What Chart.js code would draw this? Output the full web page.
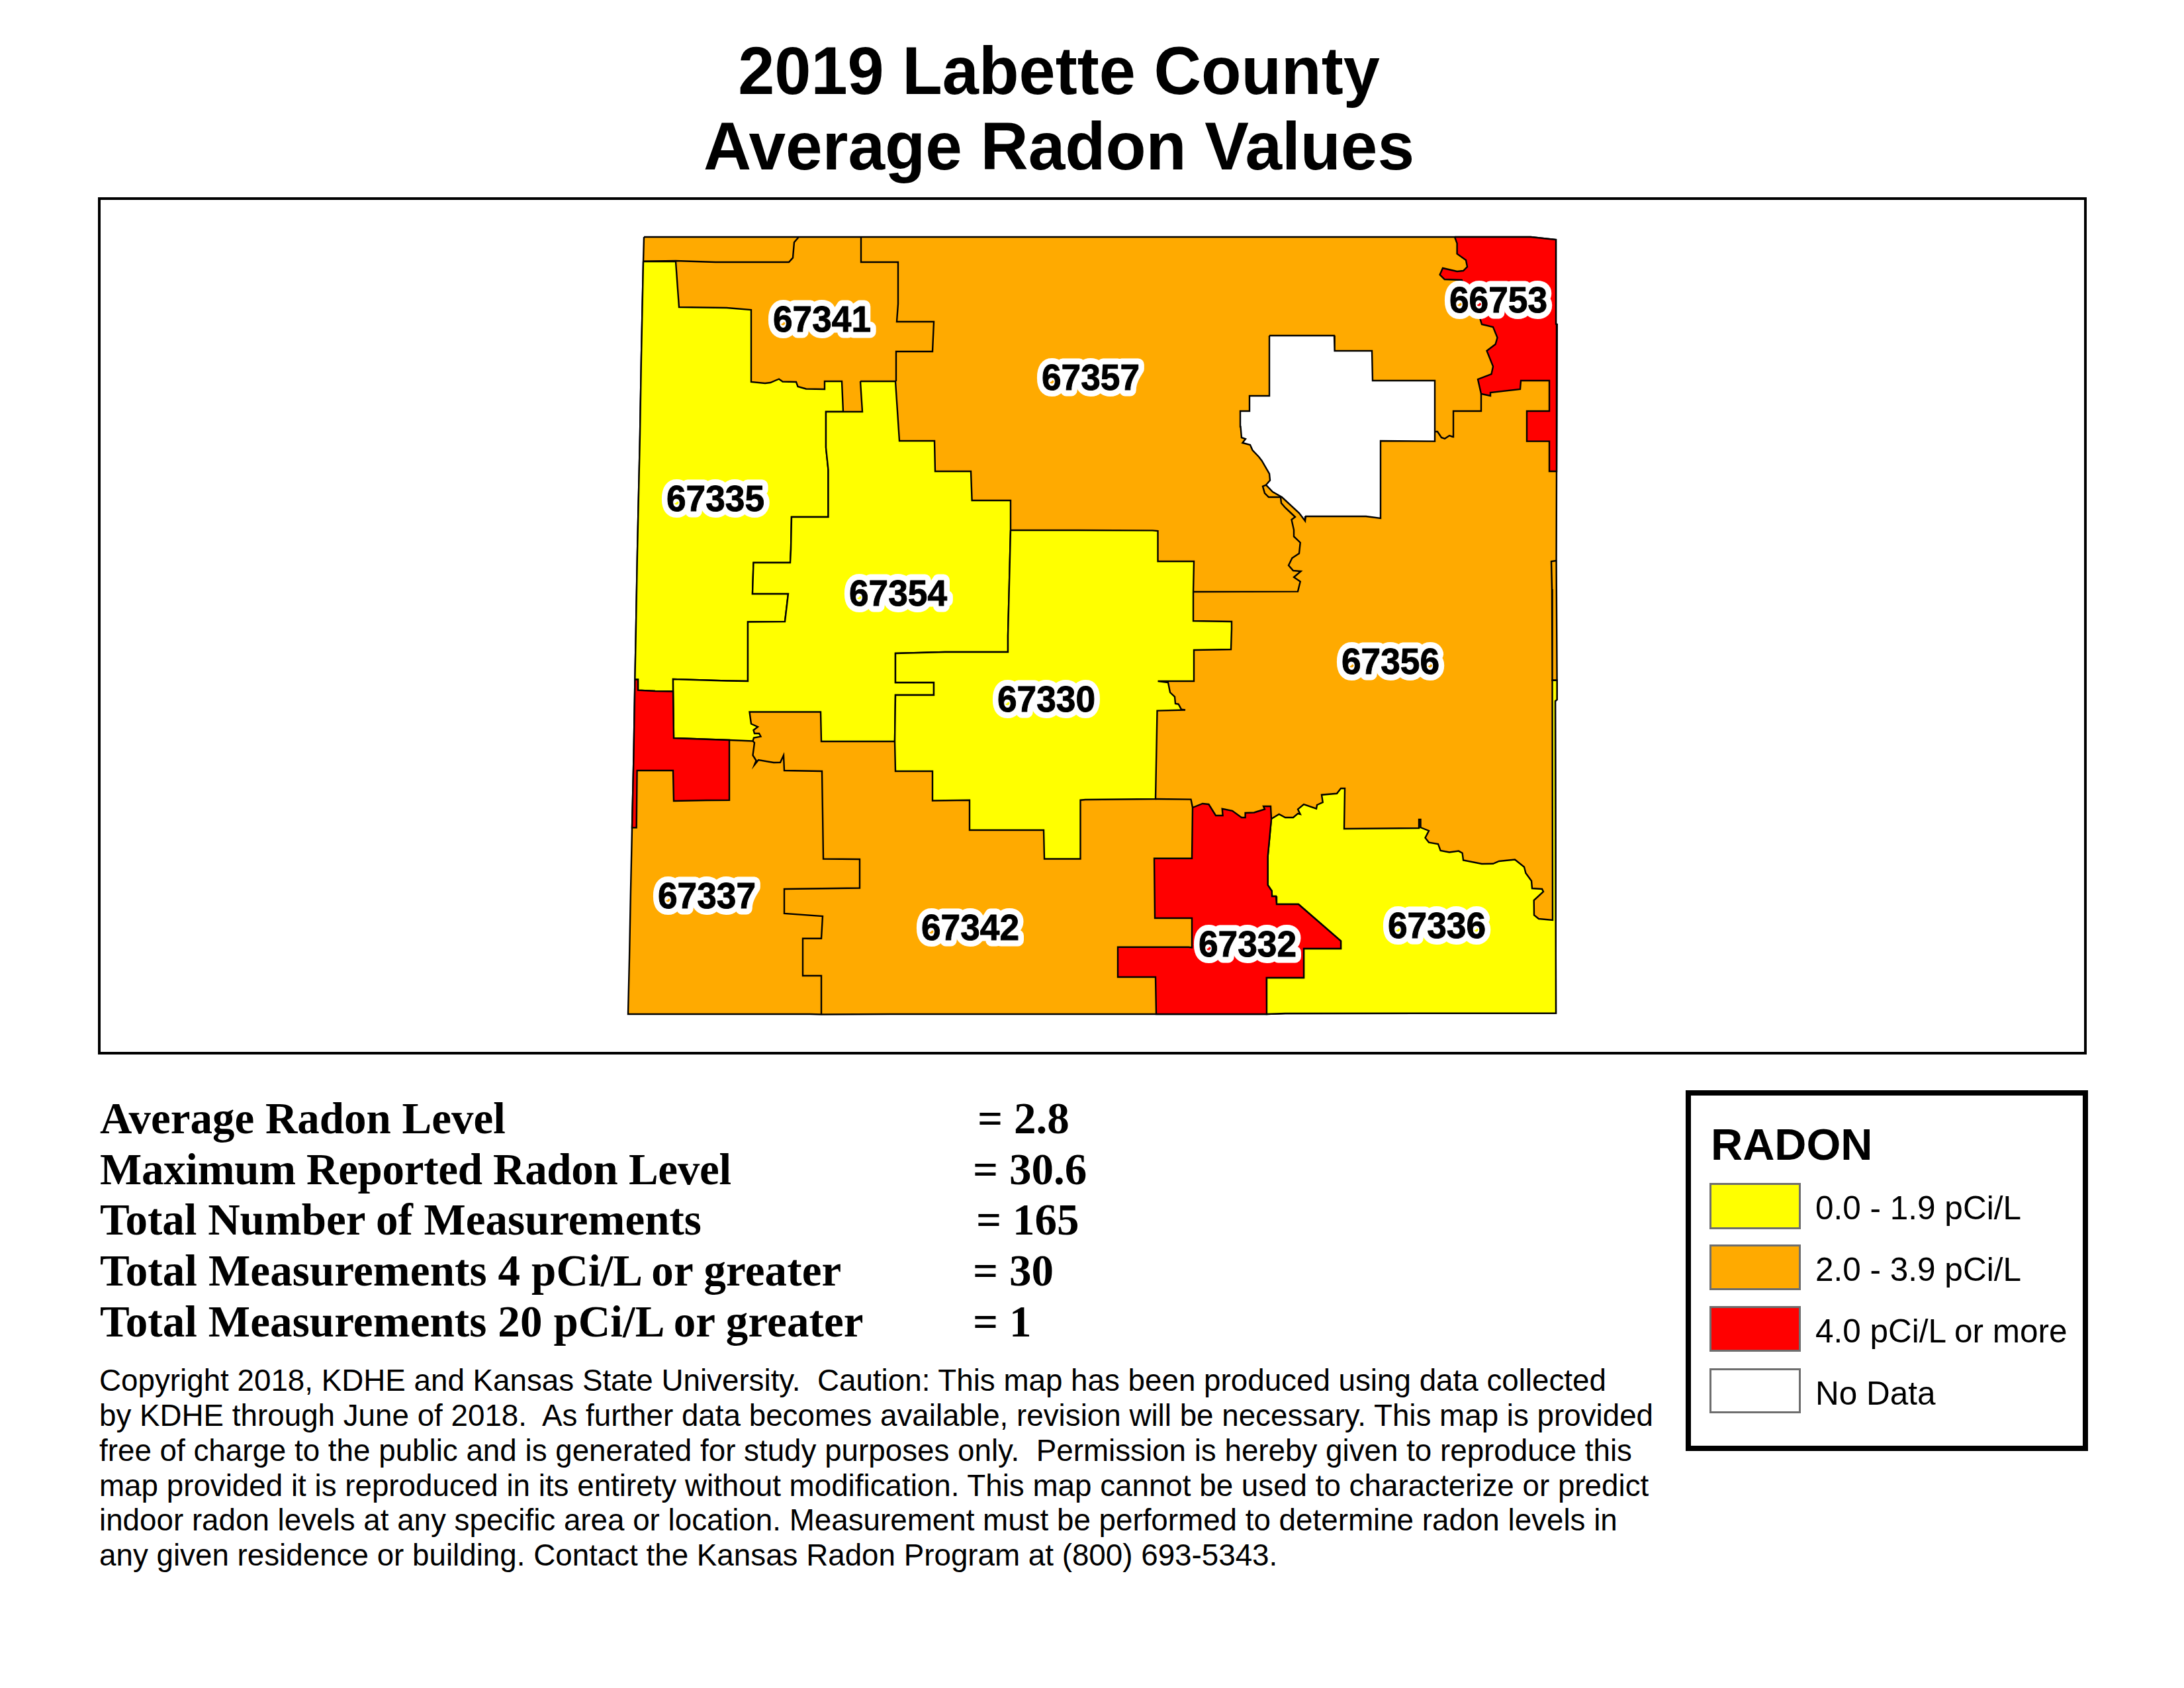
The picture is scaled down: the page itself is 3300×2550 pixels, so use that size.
<!DOCTYPE html>
<html><head><meta charset="utf-8">
<style>
html,body{margin:0;padding:0;background:#fff;width:3300px;height:2550px;overflow:hidden}
.t{position:absolute;white-space:pre;color:#000;line-height:1}
.sans{font-family:"Liberation Sans",Arial,sans-serif}
.serif{font-family:"Liberation Serif","Times New Roman",serif;font-weight:bold}
#frame{position:absolute;left:148px;top:298px;width:3005px;height:1295px;box-sizing:border-box;border:4px solid #000}
#map{position:absolute;left:152px;top:302px}
#legendBox{position:absolute;left:2547px;top:1647px;width:608px;height:545px;border:8px solid #000;box-sizing:border-box}
.sw{position:absolute;box-sizing:border-box;border:3px solid #6e6e6e}
</style>
<script src="https://cdn.jsdelivr.net/npm/chart.js@4"></script>
</head><body>
<div id="frame"></div>
<canvas id="map" width="2997" height="1287"></canvas>
<div id="legendBox"></div>
<script>
const titleLines = ["2019 Labette County", "Average Radon Values"];
const statNames = ["Average Radon Level","Maximum Reported Radon Level","Total Number of Measurements","Total Measurements 4 pCi/L or greater","Total Measurements 20 pCi/L or greater"];
const statValues = ["= 2.8","= 30.6","= 165","= 30","= 1"];
const footnote = [
"Copyright 2018, KDHE and Kansas State University.  Caution: This map has been produced using data collected",
"by KDHE through June of 2018.  As further data becomes available, revision will be necessary. This map is provided",
"free of charge to the public and is generated for study purposes only.  Permission is hereby given to reproduce this",
"map provided it is reproduced in its entirety without modification. This map cannot be used to characterize or predict",
"indoor radon levels at any specific area or location. Measurement must be performed to determine radon levels in",
"any given residence or building. Contact the Kansas Radon Program at (800) 693-5343."];
const legendTitle = "RADON";
const legendLabels = ["0.0 - 1.9 pCi/L","2.0 - 3.9 pCi/L","4.0 pCi/L or more","No Data"];
const legendColors = ["#ffff00","#ffaa00","#ff0000","#ffffff"];

// Zone outlines, as [easting, southing] map units
const county = [[973,358],[1207,358],[1301,358],[2198,358],[2313,358],[2351,362],[2351,489.5],[2352.6,490],[2352,712],[2351.6,847],[2352.6,1027.7],[2352.6,1057],[2350,1059],[2351,1530.5],[1942,1531],[1914,1532],[1747,1532],[1345,1532],[1241,1532.5],[1224,1532],[949,1532],[951,1447.5],[953,1344],[955,1252],[957.5,1141],[959.4,1026.5],[960.8,955],[963,834],[967,656],[969,538],[972,395],[973,358]];
const zip67335 = [[972,395],[1021,395],[1026,464],[1098,465],[1135,468],[1135,577],[1156,579],[1164,578],[1177,572.5],[1182.5,576.5],[1203,577],[1205.5,584],[1218,587.5],[1246,588],[1246,576],[1272,576],[1274,622],[1248,622],[1248,676],[1251.5,710],[1251.5,781],[1196,781],[1195,830],[1194,850],[1138.5,850],[1137,897],[1191,897],[1186,939],[1130,939.5],[1130,1029],[1098,1028.5],[1017,1026],[1017,1044.5],[990,1044],[964,1042.6],[964,1026.5],[959.4,1026.5],[960.8,955],[963,834],[967,656],[969,538],[972,395]];
const zip67354 = [[1300,576],[1353,576],[1359,666],[1412,666],[1413,712],[1467,712],[1468.6,756],[1527,756],[1527,801],[1523,960],[1523,985],[1428,985],[1353,987],[1353,1031],[1411,1031],[1411,1050],[1353,1050],[1352,1120],[1241,1120],[1240,1075.5],[1132.5,1075.5],[1135,1093.5],[1145,1098],[1138.5,1103],[1140,1108],[1147,1108],[1149.5,1112.6],[1139,1114.6],[1137.5,1119.5],[1102,1118],[1018,1115],[1017,1026],[1098,1028.5],[1130,1029],[1130,939.5],[1186,939],[1191,897],[1137,897],[1138.5,850],[1194,850],[1195,830],[1196,781],[1251.5,781],[1251.5,710],[1248,676],[1248,622],[1303,622],[1300,576]];
const zip67330 = [[1527,801],[1630,801],[1741.5,801.4],[1749.5,802],[1749.5,848],[1804,848],[1803,895],[1803,938],[1861,939],[1861,950],[1860,981],[1804,982],[1804,1029],[1749.5,1029],[1765,1031],[1768,1046],[1775,1052.6],[1776,1063],[1780.6,1063.7],[1785,1071.7],[1791,1072.5],[1748.5,1073.6],[1746,1207],[1640,1208],[1632.5,1208.7],[1632.5,1297.5],[1578,1297.5],[1577,1254],[1465,1254],[1465,1208.7],[1409,1209.5],[1409,1165],[1353,1165],[1352,1120],[1353,1050],[1411,1050],[1411,1031],[1353,1031],[1353,987],[1428,985],[1523,985],[1523,960],[1527,801]];
const zip67336 = [[1921,1237],[1932.6,1230],[1942,1235],[1954,1235],[1961,1229],[1964.7,1230],[1961,1222.5],[1970,1215],[1989,1221.7],[1990,1216],[1998.7,1212],[1997,1200.7],[2020,1198.8],[2026,1191],[2032,1191],[2031,1252],[2144,1251],[2144,1238],[2146.5,1238],[2146.5,1250],[2159,1255],[2153.5,1265.7],[2159,1272.6],[2173,1275],[2176.6,1285],[2190,1287.5],[2204,1285.6],[2209.6,1288.7],[2211,1299.4],[2239,1305],[2256,1304.8],[2265,1301],[2289,1298.6],[2303,1309.7],[2305.4,1319],[2314,1330.8],[2315,1342],[2330,1343],[2332,1347],[2317.7,1360],[2318,1382.5],[2325,1388],[2346,1390],[2345.5,1027.7],[2352.6,1027.7],[2352.6,1057],[2350,1059],[2351,1530.5],[1942,1531],[1914,1532],[1913.7,1477],[1970,1477],[1970,1433],[2026,1433],[2026,1421.5],[1962,1366],[1929,1366],[1928,1354],[1922,1354],[1921.7,1346],[1915.6,1337],[1915.6,1294.4],[1921,1237]];
const zip66753 = [[2198,358],[2313,358],[2351,362],[2351,489.5],[2352.6,490],[2352,712],[2341,712],[2341,666.6],[2307,666.6],[2307,621],[2341,621],[2341,575],[2298,575],[2297,588],[2252,593],[2252,598],[2238,595],[2233,573],[2253.5,565],[2256,553.5],[2246.5,530],[2259.6,520],[2262.5,510],[2256,494],[2239,490],[2236.5,482],[2208.7,423],[2182.7,422],[2175.6,415],[2180,405],[2201.6,410],[2211,409],[2217,403],[2215,393],[2201.6,383.5],[2201.6,367.7],[2198,358]];
const zip67332 = [[1802,1220],[1817,1214],[1826.4,1215],[1837,1232],[1847.6,1232],[1846.7,1221.7],[1862,1224.8],[1876,1235],[1881.6,1235],[1881.6,1228],[1894.8,1227.5],[1911,1222.5],[1909,1218],[1920,1218],[1921,1237],[1915.6,1294.4],[1915.6,1337],[1921.7,1346],[1922,1354],[1928,1354],[1929,1366],[1962,1366],[2026,1421.5],[2026,1433],[1970,1433],[1970,1477],[1913.7,1477],[1914,1532],[1747,1532],[1746,1476],[1689,1476],[1689,1430.7],[1796,1430.7],[1801,1431.4],[1801,1387],[1745,1387],[1744,1296.7],[1801,1296.7],[1802,1220]];
const westRed = [[959.4,1026.5],[964,1026.5],[964,1042.6],[990,1044],[1017,1044.5],[1018,1115],[1102,1118],[1102,1208.7],[1067,1209],[1018,1210],[1017,1164],[962.6,1164],[961.7,1250.4],[955,1250.4],[957.5,1141],[959.4,1026.5]];
const noData = [[1918,507],[2016,507],[2016.6,530],[2073,530],[2074,575],[2168,575],[2168,666.6],[2086,666],[2086,783],[2064,780],[1973,780],[1972,787],[1963,775],[1937,751],[1923,743],[1913,732.6],[1919,725.5],[1918,715.6],[1906.6,696],[1902,690],[1892.5,680],[1889,672],[1877.4,669],[1882,663],[1876,661],[1874.5,644.5],[1874,621],[1888,621],[1888,598],[1918,598],[1918,507]];
// Borders between neighbouring zones of the same class
const topStripBorder = [[973,394.6],[1021,394],[1081,396],[1192,396],[1198,389.4],[1200,366],[1207,358]];
const border67341 = [[1301,358],[1301,396],[1357,396],[1357,459],[1355,486],[1411,486],[1409,531],[1354,531],[1354,576]];
const borderRiverNorth = [[1913,732.6],[1908,734.6],[1911,745],[1917,751],[1935,751],[1936,760],[1942,767],[1957,781],[1951.5,785],[1955,800.6],[1955,810.5],[1964.7,819.6],[1963,836],[1952.4,843],[1947,854],[1954,862],[1965.6,863],[1955,872],[1964.7,878.5],[1961,893.6],[1804,894]];
const borderRiverEast = [[2168,652],[2172,652],[2178,661],[2183,662.7],[2190,658],[2195.5,660],[2196,621],[2238,621],[2238,595]];
const border67337 = [[1137.5,1119.5],[1140,1122],[1137.5,1141],[1142.6,1149],[1140,1155.5],[1146,1148],[1169,1152],[1179,1151.7],[1184,1141],[1185,1164],[1242,1165],[1243,1229],[1244,1297.5],[1299,1298],[1299,1341.5],[1185,1343],[1185,1380],[1243,1384],[1241,1417.7],[1213,1417.7],[1213,1474],[1241,1474],[1241,1532.5]];
const border67342 = [[1746,1207],[1799.5,1207.6],[1802,1220]];
const borderEastStrip = [[2351.6,847],[2344,848],[2345,890],[2345.5,1027.7],[2352.6,1027.7]];

const zipLabels = ["67341","67357","66753","67335","67354","67330","67356","67337","67342","67332","67336"];
const zipLabelX = [1242,1648,2264,1081,1357,1581,2101,1068,1466,1885,2171];
const zipLabelY = [481,569,452,752,895,1055,998,1352,1400,1425,1397];

const YELLOW="#ffff00", ORANGE="#ffaa00", RED="#ff0000", WHITE="#ffffff";
const zones = [
 ["Labette County",county,ORANGE],["67335",zip67335,YELLOW],["67354",zip67354,YELLOW],["67330",zip67330,YELLOW],["67336",zip67336,YELLOW],
 ["66753",zip66753,RED],["67332",zip67332,RED],["west red",westRed,RED],["No Data",noData,WHITE]];
const borders = [topStripBorder,border67341,borderRiverNorth,borderRiverEast,border67337,border67342,borderEastStrip];

const datasets = [];
zones.forEach((z,i)=>datasets.push({label:z[0],data:z[1],showLine:true,fill:'shape',backgroundColor:z[2],borderColor:'#000',borderWidth:2.4,pointRadius:0,tension:0,order:100-i,borderJoinStyle:'miter'}));
borders.forEach((b,i)=>datasets.push({label:'border '+i,data:b,showLine:true,fill:false,borderColor:'#000',borderWidth:2.4,pointRadius:0,tension:0,order:50-i}));

const haloLabels = {id:'haloLabels',afterDatasetsDraw(chart){
  const c=chart.ctx, xs=chart.scales.x, ys=chart.scales.y;
  c.save(); c.font='bold 56px "Liberation Sans"'; c.textAlign='center'; c.textBaseline='alphabetic'; c.lineJoin='round';
  zipLabels.forEach((t,i)=>{const x=xs.getPixelForValue(zipLabelX[i]),y=ys.getPixelForValue(zipLabelY[i])+20;
    c.save(); c.translate(x,y); c.scale(0.95,1);
    c.strokeStyle='#fff'; c.lineWidth=19; c.strokeText(t,0,0); c.fillStyle='#000'; c.fillText(t,0,0);
    c.strokeStyle='#000'; c.lineWidth=1; c.strokeText(t,0,0); c.restore();});
  c.restore();}};

new Chart(document.getElementById('map'),{type:'scatter',data:{datasets},plugins:[haloLabels],options:{
  responsive:false,animation:false,devicePixelRatio:1,layout:{padding:0},
  plugins:{legend:{display:false},title:{display:false},tooltip:{enabled:false}},
  scales:{x:{type:'linear',display:false,min:152,max:3149},y:{type:'linear',display:false,reverse:true,min:302,max:1589}}}});

function put(text,x,base,size,cls,extra){
  const d=document.createElement('div'); d.className='t '+cls; d.textContent=text;
  const k=cls==='serif'?0.8375:0.8465;
  d.style.fontSize=size+'px'; d.style.top=(base-k*size)+'px'; d.style.left=x+'px';
  if(extra&&extra.center)d.style.transform='translateX(-50%) scaleX('+(extra.sx||1)+')';
  if(extra&&extra.bold)d.style.fontWeight='bold';
  if(extra&&extra.ls)d.style.letterSpacing=extra.ls+'px';
  document.body.appendChild(d);return d;}
titleLines.forEach((t,i)=>put(t,1600,[142,256][i],102,'sans',{center:true,bold:true,sx:[0.972,0.98][i]}));
const statBase=[1712,1789,1865,1942,2019], statEqX=[1477,1470,1475,1470,1470], statLs=[0,-0.3,0,0.12,0.11];
statNames.forEach((t,i)=>{put(t,151,statBase[i],67,'serif',{ls:statLs[i]});put(statValues[i],statEqX[i],statBase[i],67,'serif');});
const footBase=[2102,2155,2208,2261,2313,2366];
footnote.forEach((t,i)=>put(t,150,footBase[i],45.75,'sans'));
put(legendTitle,2585,1752,66.7,'sans',{bold:true});
const swTop=[1787,1880,1973,2067], swH=[70,69,69,68], lblBase=[1842,1935,2028,2122];
legendLabels.forEach((t,i)=>{const s=document.createElement('div');s.className='sw';s.style.cssText=`left:2583px;top:${swTop[i]}px;width:138px;height:${swH[i]}px;background:${legendColors[i]}`;document.body.appendChild(s);
  put(t,2743,lblBase[i],49.5,'sans');});
</script>
</body></html>
